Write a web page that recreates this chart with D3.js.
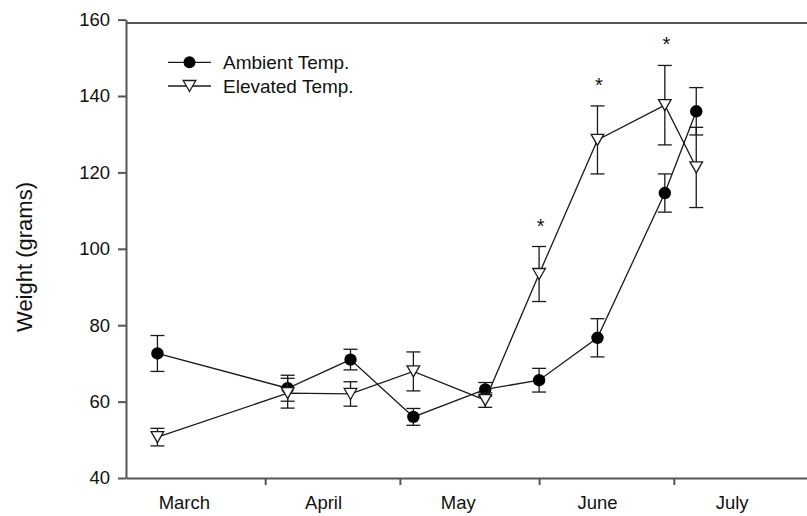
<html>
<head>
  <title>Weight by month</title>
  <script src='https://d3js.org/d3.v7.min.js'></script>
</head>
<style type="text/css">
body { margin: 0; background: #fff; }
text { font-family: "Liberation Sans", Arial, sans-serif; fill: #111; }
</style>
<body>
<script>

// sampling dates and mean weights (grams) with error bar half-widths
var dates = ["2010-03-08", "2010-04-06", "2010-04-20", "2010-05-04", "2010-05-20",
             "2010-06-01", "2010-06-14", "2010-06-29", "2010-07-06"];
var ambient = [72.6, 63.5, 71.0, 56.0, 63.2, 65.6, 76.7, 114.6, 136.0];
var ambientErr = [4.7, 3.4, 2.7, 2.2, 1.8, 3.1, 5.0, 5.0, 6.2];
var elevated = [50.7, 62.2, 62.0, 67.9, 60.4, 93.4, 128.5, 137.6, 121.3];
var elevatedErr = [2.3, 3.9, 3.2, 5.1, 1.9, 7.2, 8.9, 10.4, 10.5];
var signif = [false, false, false, false, false, true, true, true, false];

var months = ["March", "April", "May", "June", "July"];
var yTicks = [40, 60, 80, 100, 120, 140, 160];
var seriesNames = ["Ambient Temp.", "Elevated Temp."];

var width = 807,
    height = 516,
    ink = "#1a1a1a",
    axisColor = "#555";

var parse = d3.timeParse("%Y-%m-%d");

var x = d3.scaleTime()
          .domain([parse("2010-03-01"), parse("2010-08-01")])
          .range([126, 813]);

var y = d3.scaleLinear()
          .domain([40, 160])
          .range([478, 19.6]);

var svg = d3.select('body')
            .append('svg')
            .attr('width', width)
            .attr('height', height);

// axes
var xAxis = svg.append('g')
   .attr('transform', 'translate(0,' + y(40) + ')')
   .call(d3.axisBottom(x)
           .tickValues(d3.timeMonth.range(parse("2010-03-01"), parse("2010-08-02")))
           .tickSize(7)
           .tickSizeOuter(0)
           .tickFormat(""));

xAxis.selectAll('.tick').filter(function(d, i) { return i === 0; }).remove();

// month names sit mid-month, between the ticks
svg.append('g')
   .selectAll('text')
   .data(months)
   .enter()
   .append('text')
   .attr('x', function(d, i) { return x(new Date(2010, 2 + i, 14)); })
   .attr('y', y(40) + 31)
   .attr('text-anchor', 'middle')
   .style('font-size', '18.5px')
   .text(function(d) { return d; });

var yAxis = svg.append('g')
   .attr('transform', 'translate(' + x.range()[0] + ',0)')
   .call(d3.axisLeft(y)
           .tickValues(yTicks)
           .tickSize(8)
           .tickSizeOuter(0)
           .tickPadding(8));

yAxis.selectAll('text').style('font-size', '18.5px').attr('fill', '#111');

svg.selectAll('.domain, .tick line')
   .attr('stroke', axisColor)
   .attr('stroke-width', 2);

// top frame line
svg.append('line')
   .attr('x1', x.range()[0])
   .attr('x2', width)
   .attr('y1', y.range()[1] + 3.5)
   .attr('y2', y.range()[1] + 3.5)
   .attr('stroke', axisColor)
   .attr('stroke-width', 2);

svg.append('text')
   .attr('transform', 'translate(32,257) rotate(-90)')
   .attr('text-anchor', 'middle')
   .style('font-size', '22px')
   .text('Weight (grams)');

// series
var triangle = "M-6.3,-5.5L6.3,-5.5L0,5.5Z";

function drawSeries(vals, errs, filled) {
  var pts = dates.map(function(d, i) { return {date: parse(d), v: vals[i], e: errs[i]}; });

  svg.append('path')
     .datum(pts)
     .attr('fill', 'none')
     .attr('stroke', ink)
     .attr('stroke-width', 1.3)
     .attr('d', d3.line()
                  .x(function(d) { return x(d.date); })
                  .y(function(d) { return y(d.v); }));

  var bars = svg.append('g')
                .attr('stroke', ink)
                .attr('stroke-width', 1.3)
                .selectAll('g')
                .data(pts)
                .enter().append('g');

  bars.append('line')
      .attr('x1', function(d) { return x(d.date); })
      .attr('x2', function(d) { return x(d.date); })
      .attr('y1', function(d) { return y(d.v + d.e); })
      .attr('y2', function(d) { return y(d.v - d.e); });

  [1, -1].forEach(function(s) {
    bars.append('line')
        .attr('x1', function(d) { return x(d.date) - 7; })
        .attr('x2', function(d) { return x(d.date) + 7; })
        .attr('y1', function(d) { return y(d.v + s * d.e); })
        .attr('y2', function(d) { return y(d.v + s * d.e); });
  });

  var marks = svg.append('g')
                 .selectAll('.mark')
                 .data(pts)
                 .enter();

  if (filled) {
    marks.append('circle')
         .attr('cx', function(d) { return x(d.date); })
         .attr('cy', function(d) { return y(d.v); })
         .attr('r', 6.2)
         .attr('fill', '#000');
  } else {
    marks.append('path')
         .attr('d', triangle)
         .attr('transform', function(d) { return 'translate(' + x(d.date) + ',' + y(d.v) + ')'; })
         .attr('fill', '#fff')
         .attr('stroke', ink)
         .attr('stroke-width', 1.3);
  }
  return pts;
}

drawSeries(ambient, ambientErr, true);
var elev = drawSeries(elevated, elevatedErr, false);

// significance stars
svg.append('g')
   .selectAll('text')
   .data(elev.filter(function(d, i) { return signif[i]; }))
   .enter()
   .append('text')
   .attr('x', function(d) { return x(d.date) + 1.5; })
   .attr('y', function(d) { return y(d.v + d.e) - 14; })
   .attr('text-anchor', 'middle')
   .style('font-size', '20px')
   .text('*');

// legend
var legend = svg.append('g')
                .selectAll('g')
                .data(seriesNames)
                .enter().append('g')
                .attr('transform', function(d, i) { return 'translate(168,' + (62.3 + i * 23.7) + ')'; });

legend.append('line')
      .attr('x1', 0)
      .attr('x2', 43)
      .attr('stroke', ink)
      .attr('stroke-width', 1.3);

legend.filter(function(d, i) { return i === 0; })
      .append('circle')
      .attr('cx', 21.5)
      .attr('r', 6)
      .attr('fill', '#000');

legend.filter(function(d, i) { return i === 1; })
      .append('path')
      .attr('d', triangle)
      .attr('transform', 'translate(21.5,0)')
      .attr('fill', '#fff')
      .attr('stroke', ink)
      .attr('stroke-width', 1.3);

legend.append('text')
      .attr('x', 55)
      .attr('y', 6.8)
      .style('font-size', '19px')
      .text(function(d) { return d; });

</script>
</body>
</html>
